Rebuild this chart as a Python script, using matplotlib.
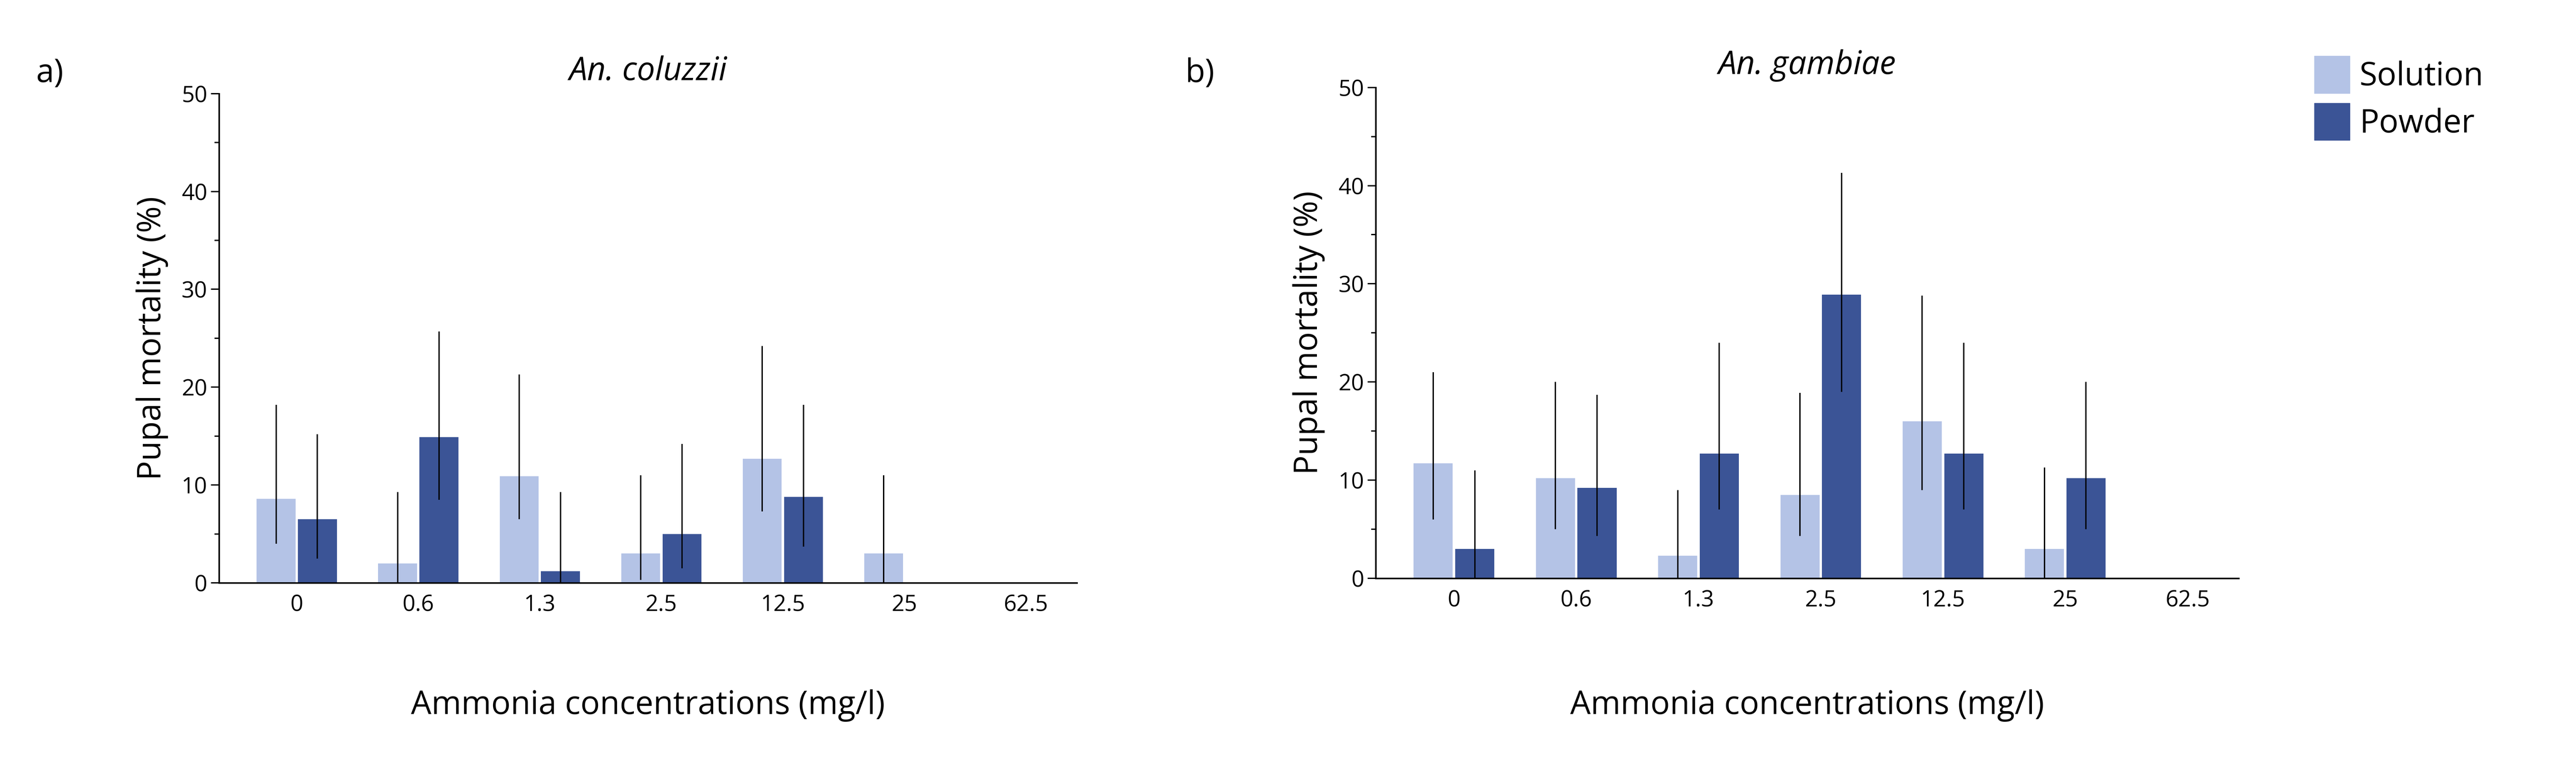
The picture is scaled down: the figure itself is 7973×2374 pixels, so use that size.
import matplotlib.pyplot as plt
import numpy as np
from matplotlib.patches import Patch

plt.rcParams['font.family'] = ['Open Sans', 'DejaVu Sans']

concentrations = ['0', '0.6', '1.3', '2.5', '12.5', '25', '62.5']

# An. coluzzii
col_solution = [8.6, 2.0, 10.9, 3.0, 12.7, 3.0, 0]
col_solution_lo = [4.0, 0.0, 6.5, 0.3, 7.3, 0.0, 0]
col_solution_hi = [18.2, 9.3, 21.3, 11.0, 24.2, 11.0, 0]
col_powder = [6.5, 14.9, 1.2, 5.0, 8.8, 0, 0]
col_powder_lo = [2.5, 8.5, 0.0, 1.5, 3.7, 0, 0]
col_powder_hi = [15.2, 25.7, 9.3, 14.2, 18.2, 0, 0]

# An. gambiae
gam_solution = [11.7, 10.2, 2.3, 8.5, 16.0, 3.0, 0]
gam_solution_lo = [6.0, 5.0, 0.0, 4.3, 9.0, 0.0, 0]
gam_solution_hi = [21.0, 20.0, 9.0, 18.9, 28.8, 11.3, 0]
gam_powder = [3.0, 9.2, 12.7, 28.9, 12.7, 10.2, 0]
gam_powder_lo = [0.0, 4.3, 7.0, 19.0, 7.0, 5.0, 0]
gam_powder_hi = [11.0, 18.7, 24.0, 41.3, 24.0, 20.0, 0]

light = '#b4c3e6'
dark = '#3b5496'

fig = plt.figure(figsize=(79.74, 23.74), dpi=100)
ax_a = fig.add_axes([0.085, 0.24, 0.333, 0.638])
ax_b = fig.add_axes([0.534, 0.246, 0.335, 0.64])

panels = [
    (ax_a, 'An. coluzzii', col_solution, col_solution_lo, col_solution_hi,
     col_powder, col_powder_lo, col_powder_hi),
    (ax_b, 'An. gambiae', gam_solution, gam_solution_lo, gam_solution_hi,
     gam_powder, gam_powder_lo, gam_powder_hi),
]

x = np.arange(len(concentrations))
w = 0.32
for ax, title, s, slo, shi, p, plo, phi in panels:
    for xs, vals, lo, hi, c in [(x - w / 2 - 0.01, s, slo, shi, light),
                                (x + w / 2 + 0.01, p, plo, phi, dark)]:
        vals = np.array(vals)
        lo = np.array(lo)
        hi = np.array(hi)
        ax.bar(xs, vals, width=w, color=c, zorder=2)
        has = hi > 0
        ax.vlines(xs[has], lo[has], hi[has], color='black', lw=3, zorder=3)
    ax.set_xlim(-0.64, 6.42)
    ax.set_ylim(0, 50)
    ax.set_xticks(x)
    ax.set_xticklabels(concentrations)
    ax.set_yticks(range(0, 51, 10))
    ax.set_yticks(range(5, 50, 10), minor=True)
    ax.tick_params(axis='x', length=0, labelsize=50, pad=25)
    ax.tick_params(axis='y', which='major', length=18, width=3, labelsize=50, pad=8)
    ax.tick_params(axis='y', which='minor', length=10, width=3)
    for sp in ['top', 'right']:
        ax.spines[sp].set_visible(False)
    for sp in ['left', 'bottom']:
        ax.spines[sp].set_linewidth(3.5)
    ax.set_title(title, fontsize=72, style='italic', pad=30)
    ax.set_ylabel('Pupal mortality (%)', fontsize=72, labelpad=30)
    pos = ax.get_position()
    fig.text((pos.x0 + pos.x1) / 2, 0.08, 'Ammonia concentrations (mg/l)',
             fontsize=72, ha='center', va='center')

fig.text(0.014, 0.904, 'a)', fontsize=72, va='center')
fig.text(0.46, 0.904, 'b)', fontsize=72, va='center')

handles = [Patch(color=light), Patch(color=dark)]
fig.legend(handles, ['Solution', 'Powder'], loc='upper left',
           bbox_to_anchor=(0.887, 0.965), frameon=False, fontsize=72,
           handlelength=1.1, handleheight=1.4, handletextpad=0.3, labelspacing=0.3)

fig.savefig('out.png', dpi=100)
